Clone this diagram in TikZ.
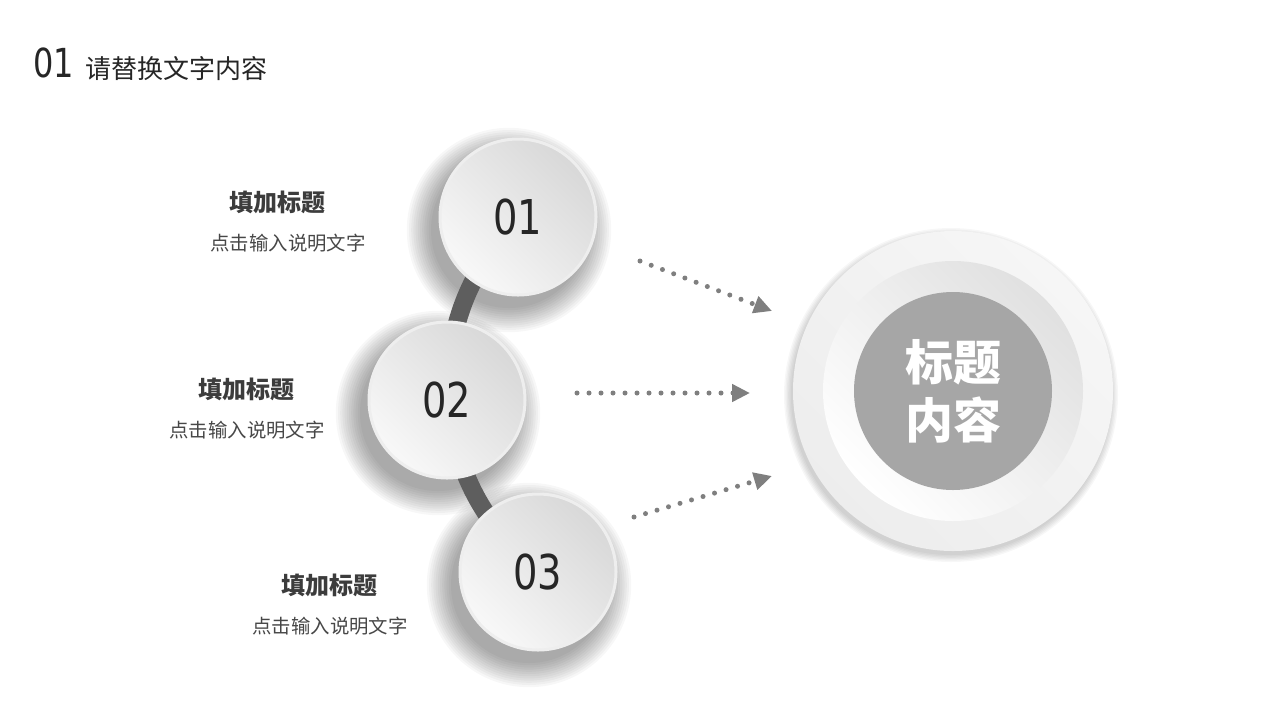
\documentclass[tikz,border=0pt]{standalone}
\usepackage{fontspec}
\newfontfamily\cjk{Noto Sans CJK SC}
\newfontfamily\numfont{DejaVu Sans}[FakeStretch=0.8]
\usetikzlibrary{positioning, calc, arrows.meta, backgrounds}
\definecolor{ink}{HTML}{262626}
\definecolor{ballDark}{HTML}{D8D8D8}
\definecolor{ballLight}{HTML}{F8F8F8}
\definecolor{ballRim}{HTML}{EEEEEE}
\definecolor{linkgray}{HTML}{5E5E5E}
\definecolor{dotgray}{HTML}{7F7F7F}
\definecolor{coregray}{HTML}{A6A6A6}

\begin{document}
\begin{tikzpicture}
    [
        x=0.5pt, y=-0.5pt,
        basic/.style = {circle, inner sep=0pt, text centered},
        ball/.style = {basic, minimum size=78pt, top color=ballDark, bottom color=ballLight, shading angle=-45,
            draw=ballRim, line width=1.5pt, font=\numfont\fontsize{24}{24}\selectfont, text=ink},
        head/.style = {font=\cjk\bfseries\fontsize{12}{14}\selectfont, text=ink!90},
        desc/.style = {font=\cjk\fontsize{9.7}{12}\selectfont, text=ink!85},
        link/.style = {draw=linkgray, line width=9pt},
        haze/.style = {fill=black, opacity=0.03},
        flow/.style = {draw=dotgray, line width=2.5pt, line cap=round, dash pattern=on 0pt off 6pt,
            -{Triangle[length=9pt, width=8.5pt]}}
    ]
    \useasboundingbox (0,0) rectangle (1280,720);

    % page title
    \node [anchor=west, font=\numfont\fontsize{20}{20}\selectfont, text=ink] (pnum) at (26,63) {01};
    \node [anchor=west, font=\cjk\fontsize{13}{15}\selectfont, text=ink] (ptitle) at (78,69) {请替换文字内容};

    % three steps
    \node [ball] (c1) at (518,217) {01};
    \node [ball] (c2) at (447,400) {02};
    \node [ball] (c3) at (538,572) {03};

    \node [head] (h1) at (277,202) {填加标题};
    \node [desc] (d1) at (288,243) {点击输入说明文字};
    \node [head] (h2) at (246,389) {填加标题};
    \node [desc] (d2) at (247,430) {点击输入说明文字};
    \node [head] (h3) at (329,585) {填加标题};
    \node [desc] (d3) at (330,626) {点击输入说明文字};

    % centre disc
    \node [basic, minimum size=160pt, top color=gray!7, bottom color=gray!14, shading angle=-45] (rim) at (953,391) {};
    \node [basic, minimum size=130pt, top color=gray!24, bottom color=white, shading angle=-45] (ring) at (rim) {};
    \node [basic, minimum size=99pt, fill=coregray, text=white, align=center,
        font=\cjk\bfseries\fontsize{24}{29}\selectfont] (core) at (rim) {标题\\内容};

    \begin{scope}[on background layer]
        \fill [white] (0,0) rectangle (1280,720);
        \foreach \n in {c1, c2, c3}
            \foreach \k in {0, ..., 11}
                \fill [haze] ($(\n)+(-9,13)$) circle [radius={(39+1.1*\k)*1pt}];
        \foreach \k in {0, ..., 5}
            \fill [haze] ($(rim)+(-2,4)$) circle [radius={(80+0.7*\k)*1pt}];
        \draw [link] (c1.center) to[bend right=20] (c2.center) to[bend right=20] (c3.center);
    \end{scope}

    % dotted arrows
    \coordinate (s1) at (640,261);
    \coordinate (e1) at (772,311);
    \coordinate (s2) at (577,393);
    \coordinate (e2) at (750,393);
    \coordinate (s3) at (634,517);
    \coordinate (e3) at (772,476);
    \foreach \i in {1, 2, 3} \draw [flow] (s\i) -- (e\i);

\end{tikzpicture}
\end{document}
